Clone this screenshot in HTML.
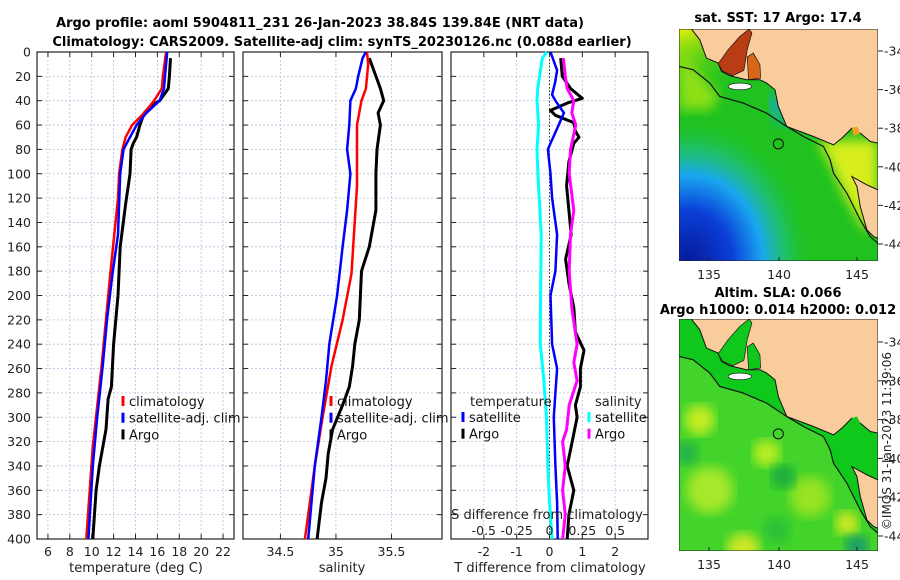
<!DOCTYPE html>
<html><head><meta charset="utf-8"><style>
html,body{margin:0;padding:0;background:#fff;}
svg{display:block;font-family:"DejaVu Sans","Liberation Sans",sans-serif;}
</style></head><body>
<svg id="fig" width="900" height="580" viewBox="0 0 900 580" xmlns="http://www.w3.org/2000/svg">
<defs>
<radialGradient id="blueg" cx="0.05" cy="1" r="0.62">
<stop offset="0" stop-color="#061a9a"/><stop offset="0.35" stop-color="#0b3fd8"/><stop offset="0.6" stop-color="#19a7f0"/><stop offset="0.8" stop-color="#1fc0a0" stop-opacity="0.5"/><stop offset="1" stop-color="#1fc21f" stop-opacity="0"/></radialGradient>
<linearGradient id="yelg" x1="0" y1="0" x2="0.4" y2="0.5"><stop offset="0" stop-color="#e6f00a"/><stop offset="1" stop-color="#1fc21f" stop-opacity="0"/></linearGradient>
<filter id="bl"><feGaussianBlur stdDeviation="18"/></filter>
</defs>
<text x="320" y="27" text-anchor="middle" font-weight="bold" font-size="13">Argo profile: aoml 5904811_231 26-Jan-2023 38.84S 139.84E (NRT data)</text>
<text x="342" y="46" text-anchor="middle" font-weight="bold" font-size="13">Climatology: CARS2009. Satellite-adj clim: synTS_20230126.nc (0.088d earlier)</text>
<g id="plots"></g>
<g id="maps"></g>
<text transform="translate(891,441) rotate(-90)" text-anchor="middle" font-size="12" fill="#222">©IMOS 31-Jan-2023 11:39:06</text>
</svg>
<script>
// ---- data ----
const climDepth=[0,20,30,40,50,60,70,80,100,120,182,258,324,400];
const climTemp=[16.8,16.5,16.4,15.7,14.8,13.7,13.1,12.8,12.5,12.4,11.7,10.9,10.1,9.5];
const satDepth=[0,20,30,40,50,60,70,80,100,150,182,220,258,300,340,400];
const satTemp=[16.9,16.7,16.6,16.2,15.0,14.1,13.5,12.9,12.6,12.4,11.9,11.4,11.0,10.5,10.1,9.7];
const argoDepth=[5,20,30,35,40,45,50,60,70,75,80,100,125,160,200,240,275,285,310,340,360,400];
const argoTemp=[17.2,17.1,17.0,16.6,16.2,15.3,14.8,14.4,14.1,13.8,13.6,13.5,13.1,12.6,12.4,12.0,11.8,11.5,11.3,10.7,10.4,10.1];

const climSDepth=[0,10,30,40,60,80,110,182,220,258,300,340,400];
const climSal=[35.28,35.29,35.27,35.23,35.19,35.19,35.19,35.14,35.06,34.96,34.88,34.81,34.72];
const satSDepth=[0,5,20,30,40,60,80,100,130,160,200,240,270,300,340,400];
const satSal=[35.27,35.24,35.20,35.18,35.13,35.12,35.10,35.13,35.10,35.06,35.01,34.94,34.91,34.87,34.81,34.75];
const argoSDepth=[5,30,40,50,60,80,100,130,160,180,220,240,258,275,290,310,330,350,370,400];
const argoSal=[35.30,35.40,35.43,35.38,35.40,35.37,35.36,35.36,35.30,35.23,35.21,35.17,35.15,35.12,35.06,34.97,34.93,34.91,34.87,34.83];

const dTsatDepth=[0,15,25,35,40,50,60,75,80,100,120,150,180,200,240,260,280,300,340,370,400];
const dTsat=[0.03,0.23,0.17,0.08,0.18,0.44,0.28,0.03,-0.05,0.03,0.08,0.23,0.18,0.03,0.08,0.23,0.18,0.13,0.18,0.23,0.25];
const dTargoDepth=[5,20,30,38,42,48,52,58,65,70,75,90,110,130,150,170,190,210,230,245,260,275,290,300,320,340,360,380,400];
const dTargo=[0.34,0.39,0.64,1.0,0.54,0.03,0.18,0.74,0.79,0.9,0.74,0.59,0.52,0.59,0.66,0.49,0.59,0.74,0.79,1.05,0.94,0.94,0.79,0.84,0.69,0.54,0.74,0.59,0.54];
const dSsatDepth=[0,5,30,40,60,80,100,150,200,240,270,300,340,370,400];
const dSsat=[-0.02,-0.055,-0.09,-0.095,-0.083,-0.095,-0.088,-0.063,-0.068,-0.07,-0.043,-0.023,-0.013,0,0.02];
const dSargoDepth=[5,20,30,40,50,60,80,100,130,150,180,210,240,255,270,290,310,320,340,360,380,400];
const dSargo=[0.105,0.12,0.135,0.185,0.17,0.2,0.16,0.15,0.185,0.16,0.15,0.17,0.21,0.185,0.21,0.15,0.13,0.1,0.12,0.1,0.12,0.1];

const depthTicks=[0,20,40,60,80,100,120,140,160,180,200,220,240,260,280,300,320,340,360,380,400];
const tempTicks=[6,8,10,12,14,16,18,20,22];
const salTicks=[34.5,35,35.5];
const dTTicks=[-2,-1,0,1,2];
const dSTicks=[-0.5,-0.25,0,0.25,0.5];

// ---- axes ----
const NS='http://www.w3.org/2000/svg';
const TOP=52,BOT=539;
const yD=d=>TOP+d*(BOT-TOP)/400;
const P1={x0:37,x1:234,min:5,max:23};
const P2={x0:243,x1:442,min:34.163,max:35.955};
const P3={x0:451,x1:648,min:-3,max:3};
const sx=(P,v)=>P.x0+(v-P.min)*(P.x1-P.x0)/(P.max-P.min);
const g=document.getElementById('plots');
function mk(tag,attrs,parent){const e=document.createElementNS(NS,tag);for(const k in attrs)e.setAttribute(k,attrs[k]);(parent||g).appendChild(e);return e;}
function txt(x,y,s,size,anchor,parent,fill){const t=mk('text',{x:x,y:y,'font-size':size,'text-anchor':anchor||'middle',fill:fill||'#222'},parent);t.textContent=s;return t;}

function panel(P,xt,name){
  const grp=mk('g',{});
  
  
  depthTicks.forEach(d=>{
    mk('line',{x1:P.x0,x2:P.x1,y1:yD(d),y2:yD(d),stroke:'#b8bfdc','stroke-width':0.8,'stroke-dasharray':'2,2'},grp);
    mk('line',{x1:P.x0,x2:P.x0+5,y1:yD(d),y2:yD(d),stroke:'#222'},grp);
    mk('line',{x1:P.x1-5,x2:P.x1,y1:yD(d),y2:yD(d),stroke:'#222'},grp);
  });
  xt.forEach(v=>{
    const x=sx(P,v);
    mk('line',{x1:x,x2:x,y1:TOP,y2:BOT,stroke:'#b8bfdc','stroke-width':0.8,'stroke-dasharray':'2,2'},grp);
    mk('line',{x1:x,x2:x,y1:BOT-5,y2:BOT,stroke:'#222'},grp);
    mk('line',{x1:x,x2:x,y1:TOP,y2:TOP+5,stroke:'#222'},grp);
    const t=txt(x,556,String(v),12.5,'middle',grp);
    
    
  });
  mk('rect',{x:P.x0,y:TOP,width:P.x1-P.x0,height:BOT-TOP,fill:'none',stroke:'#222','stroke-width':1.2},grp);
  return grp;
}
panel(P1,tempTicks,'temperature-panel');
panel(P2,salTicks,'salinity-panel');
panel(P3,dTTicks,'difference-panel');
depthTicks.forEach(d=>{
  const t=txt(31,yD(d)+4.5,String(d),12.5,'end');
  
  
});
function label(x,y,s,name){const t=txt(x,y,s,13,'middle');}
label(136,572,'temperature (deg C)','temperature-axis-title');
label(342,572,'salinity','salinity-axis-title');
label(550,572,'T difference from climatology','t-diff-axis-title');

function series(P,depths,vals,color,w,name,scale){
  const pts=depths.map((d,i)=>sx(P,vals[i]*(scale||1)).toFixed(1)+','+yD(d).toFixed(1)).join(' ');
  const pl=mk('polyline',{points:pts,fill:'none',stroke:color,'stroke-width':w,'stroke-linejoin':'round'});
  
  
}
const zx=sx(P3,0);
const zl=mk('line',{x1:zx,x2:zx,y1:TOP,y2:BOT,stroke:'#333','stroke-width':1,'stroke-dasharray':'1.5,2'});



series(P1,argoDepth,argoTemp,'#000',3,'argo-temperature-line');
series(P1,climDepth,climTemp,'#f00',2.5,'climatology-temperature-line');
series(P1,satDepth,satTemp,'#0000ff',2.5,'satellite-temperature-line');
series(P2,argoSDepth,argoSal,'#000',3,'argo-salinity-line');
series(P2,climSDepth,climSal,'#f00',2.5,'climatology-salinity-line');
series(P2,satSDepth,satSal,'#0000ff',2.5,'satellite-salinity-line');
series(P3,dSsatDepth,dSsat,'#00ffff',3,'satellite-salinity-diff-line',4);
series(P3,dTargoDepth,dTargo,'#000',3,'argo-temperature-diff-line');
series(P3,dSargoDepth,dSargo,'#ff00ff',3,'argo-salinity-diff-line',4);
series(P3,dTsatDepth,dTsat,'#0000ff',2.5,'satellite-temperature-diff-line');

function legend(x,y,items,name){
  const lg=mk('g',{});
  
  
  items.forEach((it,i)=>{
    const yy=y+i*16.7;
    mk('line',{x1:x,x2:x,y1:yy-10,y2:yy,stroke:it[1],'stroke-width':3},lg);
    txt(x+6,yy,it[0],13,'start',lg,'#111');
  });
}
legend(123,406,[['climatology','#f00'],['satellite-adj. clim','#0000ff'],['Argo','#000']],'temperature-legend');
legend(331,406,[['climatology','#f00'],['satellite-adj. clim','#0000ff'],['Argo','#000']],'salinity-legend');
const h1=txt(470,406,'temperature',13,'start');


legend(463,422,[['satellite','#0000ff'],['Argo','#000']],'diff-legend-temperature');
const h2=txt(595,406,'salinity',13,'start');


legend(589,422,[['satellite','#00ffff'],['Argo','#ff00ff']],'diff-legend-salinity');
const st=txt(547,519,'S difference from climatology',13,'middle');


dSTicks.forEach(v=>{
  const t=txt(sx(P3,v*4),535,String(v),12.5,'middle');
  
  
});

// ---- maps ----
const mg=document.getElementById('maps');
const land="95,88 120,120 140,175 175,190 185,215 210,228 260,240 300,240 320,250 345,270 355,320 380,380 420,395 460,410 520,435 545,415 575,385 600,400 630,425 653,430 653,88";
const tas="575,530 590,560 600,620 620,690 640,710 653,715 653,570 620,555";
const spencer="175,192 205,150 240,110 268,88 276,100 262,150 252,212 218,228 188,214";
const vincent="262,172 280,160 300,195 302,235 266,240";
const contour="58,200 100,210 150,250 180,290 250,310 320,340 380,380 430,410 490,440 510,480 520,520 560,580 600,660 630,710 653,730";
function map(y,type){
  const s=mk('svg',{x:679,y:y,width:199,height:232,viewBox:'58 88 595 695',preserveAspectRatio:'none'},mg);
  
  
  if(type==='sst'){
    mk('rect',{x:58,y:88,width:595,height:695,fill:'#1fc21f'},s);
    mk('polygon',{points:'58,88 653,88 653,400 58,400',fill:'url(#yelg)'},s);
    mk('polygon',{points:'58,130 100,200 180,290 150,330 58,330',fill:'#8ee018',filter:'url(#bl)'},s);
    mk('polygon',{points:'470,420 653,420 653,600 620,700 560,600 500,470',fill:'#d8ee1a',filter:'url(#bl)'},s);
    mk('polygon',{points:'330,280 360,300 380,380 360,370 330,320',fill:'#17a8e0',filter:'url(#bl)'},s);
    mk('rect',{x:58,y:88,width:595,height:695,fill:'url(#blueg)'},s);
  } else {
    mk('rect',{x:58,y:88,width:595,height:695,fill:'#42d42a'},s);
    [[120,390,45,'#c8ee22'],[320,490,40,'#c0ee20'],[560,700,35,'#d8ea20'],[250,780,50,'#d0e828'],[450,620,60,'#98e424'],[150,600,70,'#a8e82a']].forEach(e=>mk('ellipse',{cx:e[0],cy:e[1],rx:e[2],ry:e[2],fill:e[3],filter:'url(#bl)'},s));
    [[370,560,35,'#18a840'],[590,770,35,'#189870'],[80,490,35,'#20b048'],[350,720,40,'#2cc038']].forEach(e=>mk('ellipse',{cx:e[0],cy:e[1],rx:e[2],ry:e[2],fill:e[3],filter:'url(#bl)'},s));
    mk('polygon',{points:"58,88 653,88 653,730 630,710 600,660 560,580 520,520 510,480 490,440 430,410 380,380 320,340 250,310 180,290 150,250 100,210 58,200",fill:'#10c81c'},s);
  }
  mk('polygon',{points:land,fill:'#f9cc9c',stroke:'#111','stroke-width':3},s);
  mk('polygon',{points:tas,fill:'#f9cc9c',stroke:'#111','stroke-width':3},s);
  mk('polygon',{points:spencer,fill:type==='sst'?'#b83c14':'#10c81c',stroke:'#111','stroke-width':2},s);
  mk('polygon',{points:vincent,fill:type==='sst'?'#d86818':'#10c81c',stroke:'#111','stroke-width':2},s);
  mk('ellipse',{cx:240,cy:260,rx:35,ry:10,fill:'#fff',stroke:'#111','stroke-width':2},s);
  mk('polygon',{points:'575,385 590,380 600,400 580,408',fill:type==='sst'?'#f0a020':'#10c81c'},s);
  mk('polyline',{points:contour,fill:'none',stroke:'#111','stroke-width':3.5},s);
  mk('circle',{cx:355,cy:432,r:15,fill:'none',stroke:'#111','stroke-width':3},s);
  mk('rect',{x:58,y:88,width:595,height:695,fill:'none',stroke:'#222','stroke-width':3},s);
}
map(29,'sst');map(319,'sla');
function mapAxes(y0,lat34,lat44,name){
  const ax=mk('g',{},mg);
  
  
  [-34,-36,-38,-40,-42,-44].forEach(l=>{
    const yy=lat34+(l+34)*(lat44-lat34)/(-10);
    mk('line',{x1:878,x2:883,y1:yy,y2:yy,stroke:'#222'},ax);
    txt(884,yy+4.5,String(l),12.5,'start',ax);
  });
  [[135,709],[140,779],[145,857]].forEach(p=>{
    mk('line',{x1:p[1],x2:p[1],y1:y0+232-4,y2:y0+232,stroke:'#222'},ax);
    txt(p[1],y0+250,String(p[0]),12.5,'middle',ax);
  });
}
mapAxes(29,51,244,'sst-map-axes');
mapAxes(319,342,536,'sla-map-axes');
function mt(x,y,s,name){const t=txt(x,y,s,13,'middle',mg,'#000');t.setAttribute('font-weight','bold');}
mt(778,22,'sat. SST: 17 Argo: 17.4','sst-map-title');
mt(778,297,'Altim. SLA: 0.066','sla-map-title');
mt(778,314,'Argo h1000: 0.014 h2000: 0.012','argo-height-title');
</script>
</body></html>
